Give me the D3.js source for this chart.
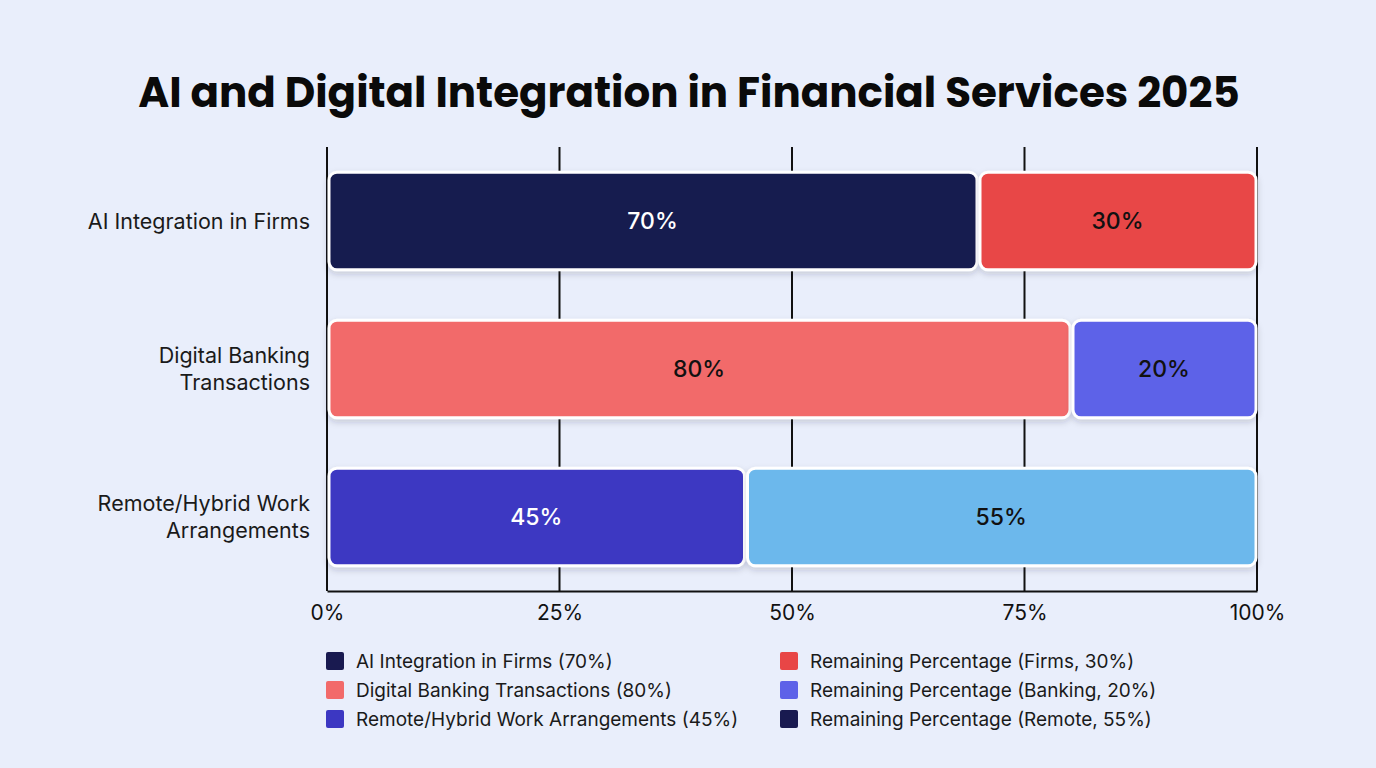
<!DOCTYPE html>
<html>

<head>
    <meta charset="utf-8">
    <script src="https://d3js.org/d3.v7.min.js"></script>
    <style>
        body { margin: 0; background: #e9eefb; }
        text { font-family: Inter, "Noto Sans", sans-serif; }
    </style>
</head>

<body>
    <div id="viz"></div>

    <script>

        // data
        var categories = ["AI Integration in Firms", "Digital Banking Transactions", "Remote/Hybrid Work Arrangements"]
        var categoryLines = [["AI Integration in Firms"], ["Digital Banking", "Transactions"], ["Remote/Hybrid Work", "Arrangements"]]
        var mainValues = [70, 80, 45]
        var restValues = [30, 20, 55]
        var mainColors = ["#191a50", "#f26a6a", "#3c37c2"]
        var restColors = ["#e84646", "#5d62e8", "#6cb8ec"]
        var mainLabelColors = ["#ffffff", "#111111", "#ffffff"]
        var restLabelColors = ["#111111", "#111111", "#111111"]
        var xTicks = [0, 25, 50, 75, 100]
        var legendLabels = [
            "AI Integration in Firms (70%)", "Digital Banking Transactions (80%)", "Remote/Hybrid Work Arrangements (45%)",
            "Remaining Percentage (Firms, 30%)", "Remaining Percentage (Banking, 20%)", "Remaining Percentage (Remote, 55%)"
        ]
        var legendColors = ["#191a50", "#f26a6a", "#3c37c2", "#e84646", "#5d62e8", "#191a50"]

        var W = 1376, H = 768
        var margin = { top: 147, right: 119, bottom: 177, left: 327 },
            width = W - margin.left - margin.right,
            height = H - margin.top - margin.bottom;

        var root = d3.select("#viz")
            .append("svg")
            .attr("width", W)
            .attr("height", H)

        var defs = root.append("defs")
        var f = defs.append("filter").attr("id", "shadow")
            .attr("x", "-5%").attr("y", "-20%").attr("width", "110%").attr("height", "150%")
        f.append("feDropShadow").attr("dx", 0).attr("dy", 3).attr("stdDeviation", 3)
            .attr("flood-color", "#1a1a40").attr("flood-opacity", 0.18)

        // title
        root.append("text")
            .attr("x", 689)
            .attr("y", 107)
            .attr("text-anchor", "middle")
            .style("font-family", "Poppins, Inter, sans-serif")
            .style("font-weight", 700)
            .style("font-size", "42px")
            .attr("fill", "#0a0a0a")
            .text("AI and Digital Integration in Financial Services 2025")

        var svg = root.append("g")
            .attr("transform", "translate(" + margin.left + "," + margin.top + ")");

        var x = d3.scaleLinear().domain([0, 100]).range([0, width])
        var y = d3.scaleBand().domain(categories).range([0, height]).paddingInner(0.34).paddingOuter(0.17)

        // grid lines
        svg.selectAll(".grid")
            .data(xTicks)
            .enter()
            .append("line")
            .attr("x1", function (d) { return x(d) })
            .attr("x2", function (d) { return x(d) })
            .attr("y1", 0)
            .attr("y2", height)
            .attr("stroke", "#111")
            .attr("stroke-width", 2)

        // x axis
        var xAxis = svg.append("g")
            .attr("transform", "translate(0," + height + ")")
            .call(d3.axisBottom(x).tickValues(xTicks).tickSize(0).tickPadding(14).tickFormat(function (d) { return d + "%" }))
        xAxis.select(".domain").attr("stroke", "#111").attr("stroke-width", 2)
        xAxis.selectAll("text").style("font-size", "21px").attr("fill", "#111")

        // y labels
        var yl = svg.selectAll(".ylab")
            .data(categories)
            .enter()
            .append("text")
            .attr("text-anchor", "end")
            .attr("x", -17)
            .attr("y", function (d) { return y(d) + y.bandwidth() / 2 })
            .style("font-size", "21.5px")
            .attr("fill", "#1a1a1a")
        yl.each(function (d, i) {
            var lines = categoryLines[i]
            var t = d3.select(this)
            lines.forEach(function (l, j) {
                t.append("tspan")
                    .attr("x", -17)
                    .attr("dy", j === 0 ? (0.35 - (lines.length - 1) * 0.625) + "em" : "1.25em")
                    .text(l)
            })
        })

        // stacked segments
        var segs = []
        categories.forEach(function (c, i) {
            segs.push({ cat: c, x0: 0, x1: mainValues[i], color: mainColors[i], tc: mainLabelColors[i] })
            segs.push({ cat: c, x0: mainValues[i], x1: mainValues[i] + restValues[i], color: restColors[i], tc: restLabelColors[i] })
        })

        svg.selectAll(".seg")
            .data(segs)
            .enter()
            .append("rect")
            .attr("x", function (d) { return x(d.x0) + 2 })
            .attr("y", function (d) { return y(d.cat) })
            .attr("width", function (d) { return x(d.x1) - x(d.x0) - 3 })
            .attr("height", y.bandwidth())
            .attr("rx", 8)
            .attr("fill", function (d) { return d.color })
            .attr("stroke", "#ffffff")
            .attr("stroke-width", 3)
            .attr("filter", "url(#shadow)")

        svg.selectAll(".seglab")
            .data(segs)
            .enter()
            .append("text")
            .attr("x", function (d) { return (x(d.x0) + x(d.x1)) / 2 })
            .attr("y", function (d) { return y(d.cat) + y.bandwidth() / 2 })
            .attr("dy", "0.36em")
            .attr("text-anchor", "middle")
            .style("font-size", "23px")
            .style("font-weight", 500)
            .attr("fill", function (d) { return d.tc })
            .text(function (d) { return (d.x1 - d.x0) + "%" })

        // legend
        var leg = root.append("g")
        legendLabels.forEach(function (l, i) {
            var col = Math.floor(i / 3), row = i % 3
            var gx = 326 + col * 454, gy = 661 + row * 29
            leg.append("rect")
                .attr("x", gx).attr("y", gy - 9)
                .attr("width", 18).attr("height", 18).attr("rx", 2)
                .attr("fill", legendColors[i])
            leg.append("text")
                .attr("x", gx + 30).attr("y", gy)
                .attr("dy", "0.35em")
                .style("font-size", "19px")
                .attr("fill", "#1a1a1a")
                .text(l)
        })

    </script>
</body>

</html>
